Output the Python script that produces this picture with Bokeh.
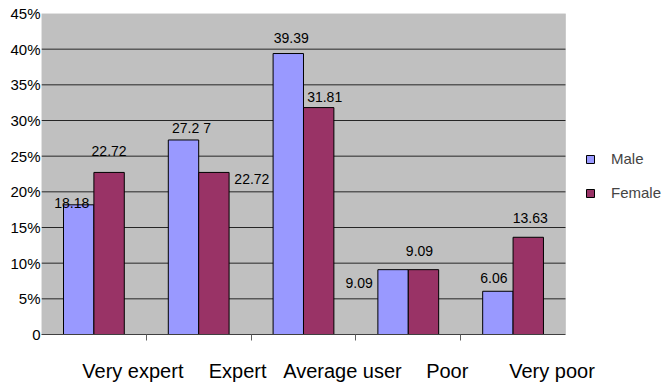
from bokeh.plotting import figure
from bokeh.models import (ColumnDataSource, Range1d, LinearAxis, FixedTicker,
                          LabelSet, Legend, LegendItem, BoxAnnotation)
from bokeh.core.properties import value
from bokeh.transform import dodge
from bokeh.embed import file_html
from bokeh.resources import INLINE

# ---- data ----
categories = ["Very expert", "Expert", "Average user", "Poor", "Very poor"]
male = [18.18, 27.27, 39.39, 9.09, 6.06]
female = [22.72, 22.72, 31.81, 9.09, 13.63]
male_labels = ["18.18", "27.2 7", "39.39", "9.09", "6.06"]
female_labels = ["22.72", "22.72", "31.81", "9.09", "13.63"]
y_ticks = [0, 5, 10, 15, 20, 25, 30, 35, 40, 45]
y_tick_labels = ["0", "5%", "10%", "15%", "20%", "25%", "30%", "35%", "40%", "45%"]

# label nudges (screen px, style only)
male_dx = [-7, 8, 3, -34, -4]
male_dy = [2, 12, 16, -13, 13]
female_dx = [0, 38, 6, -4, 2]
female_dy = [21, -7, 11, 19, 19]

FONT = "Liberation Sans"
MALE_C = "#9999FF"
FEMALE_C = "#993366"

n = len(categories)
YMAX = 45
XEND = n + 0.945          # extra room on the right for the legend
src = ColumnDataSource(dict(xi=[i + 0.5 for i in range(n)], cat=categories,
                            male=male, female=female,
                            male_lab=male_labels, female_lab=female_labels,
                            mdx=male_dx, mdy=male_dy, fdx=female_dx, fdy=female_dy))

p = figure(width=664, height=384, x_range=Range1d(0, XEND),
           y_range=Range1d(0, YMAX), output_backend="svg", toolbar_location=None,
           x_axis_location=None, y_axis_location=None,
           min_border_left=41, min_border_right=0, min_border_top=13, min_border_bottom=49)
p.background_fill_color = "white"
p.border_fill_color = "white"
p.outline_line_color = None
for g in p.grid:
    g.visible = False

# gray plot area
p.add_layout(BoxAnnotation(left=0, right=n, bottom=0, top=YMAX, fill_color="#C0C0C0",
                           fill_alpha=1, line_color="#999999", line_width=1,
                           level="underlay"))

# horizontal gridlines across the plot area only
gl = [t for t in y_ticks if 0 < t < YMAX]
p.segment(x0=[0] * len(gl), x1=[n] * len(gl), y0=gl, y1=gl,
          line_color="#262626", line_width=1)

w = 0.29
rm = p.vbar(x=dodge("xi", -0.145), top="male", width=w, source=src,
            fill_color=MALE_C, line_color="black", line_width=1)
rf = p.vbar(x=dodge("xi", 0.145), top="female", width=w, source=src,
            fill_color=FEMALE_C, line_color="black", line_width=1)

# value labels
for col, lab, dx, dy, off in [("male", "male_lab", "mdx", "mdy", -0.145),
                              ("female", "female_lab", "fdx", "fdy", 0.145)]:
    ls = LabelSet(x=dodge("xi", off), y=col, text=lab, source=src,
                  x_offset=dx, y_offset=dy, text_align="center", text_baseline="middle",
                  text_font=value(FONT), text_font_size="14px", text_color="black")
    p.add_layout(ls)

# y axis
ya = LinearAxis(ticker=FixedTicker(ticks=y_ticks),
                major_label_overrides={t: s for t, s in zip(y_ticks, y_tick_labels)},
                major_tick_out=0, major_tick_in=0, minor_tick_line_color=None,
                major_tick_line_color=None, axis_line_color=None,
                major_label_standoff=1, major_label_text_font=FONT,
                major_label_text_font_size="15px", major_label_text_color="black")
p.add_layout(ya, "left")

# bottom axis: category labels shifted right, minor ticks at category boundaries
xs = 0.372
p.extra_x_ranges = {"xlab": Range1d(-xs, XEND - xs)}
xa = LinearAxis(x_range_name="xlab", bounds=(-xs, n - xs),
                ticker=FixedTicker(ticks=[i + 0.5 for i in range(n)],
                                   minor_ticks=[i - xs for i in range(1, n)]),
                major_label_overrides={i + 0.5: c for i, c in enumerate(categories)},
                major_tick_out=0, major_tick_in=0, major_tick_line_color=None,
                minor_tick_out=6, minor_tick_in=0, minor_tick_line_color="#606060",
                axis_line_color="#404040", major_label_standoff=19,
                major_label_text_font=FONT, major_label_text_font_size="20px",
                major_label_text_color="black")
p.add_layout(xa, "below")

legend = Legend(items=[LegendItem(label="Male", renderers=[rm]),
                       LegendItem(label="Female", renderers=[rf])],
                location=(544, 133), orientation="vertical",
                glyph_width=10, glyph_height=10, label_standoff=16, spacing=17,
                padding=0, margin=0, border_line_color=None, background_fill_alpha=0,
                label_text_font=FONT, label_text_font_size="15px")
p.add_layout(legend, "center")

open("out.html", "w").write(file_html(p, INLINE))
